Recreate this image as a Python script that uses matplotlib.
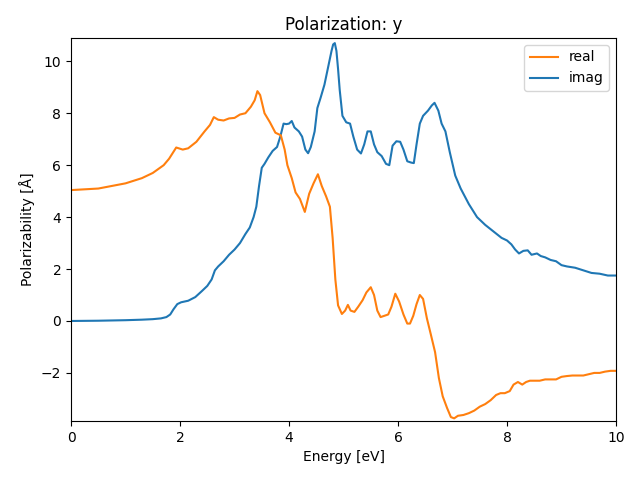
import numpy as np
import matplotlib.pyplot as plt

e_real = [0.0, 0.5, 1.0, 1.3, 1.5, 1.7, 1.8, 1.93, 2.05, 2.15, 2.3, 2.45, 2.55, 2.62, 2.7, 2.8,
          2.9, 3.0, 3.1, 3.2, 3.3, 3.37, 3.42, 3.47, 3.55, 3.65, 3.75, 3.85, 3.92, 3.97, 4.05,
          4.12, 4.2, 4.29, 4.37, 4.45, 4.53, 4.6, 4.68, 4.75, 4.8, 4.85, 4.9, 4.97, 5.03, 5.08,
          5.13, 5.2, 5.27, 5.35, 5.42, 5.5, 5.56, 5.62, 5.68, 5.75, 5.82, 5.88, 5.95, 6.02,
          6.1, 6.17, 6.22, 6.28, 6.34, 6.4, 6.46, 6.53, 6.6, 6.68, 6.75, 6.82, 6.9, 6.97, 7.03,
          7.1, 7.2, 7.3, 7.4, 7.5, 7.6, 7.7, 7.8, 7.88, 7.96, 8.05, 8.12, 8.2, 8.28, 8.35, 8.42,
          8.5, 8.6, 8.7, 8.8, 8.9, 9.0, 9.1, 9.2, 9.3, 9.4, 9.5, 9.6, 9.7, 9.8, 9.9, 10.0]
real = [5.04, 5.1, 5.3, 5.5, 5.7, 6.0, 6.25, 6.68, 6.6, 6.65, 6.9, 7.3, 7.55, 7.85, 7.75, 7.72,
        7.8, 7.82, 7.95, 8.0, 8.25, 8.5, 8.85, 8.7, 8.0, 7.65, 7.25, 7.15, 6.6, 6.0, 5.5,
        4.95, 4.7, 4.2, 4.9, 5.3, 5.65, 5.2, 4.8, 4.4, 3.2, 1.6, 0.6, 0.27, 0.4, 0.62,
        0.4, 0.35, 0.55, 0.8, 1.1, 1.3, 1.0, 0.4, 0.15, 0.2, 0.25, 0.55, 1.05, 0.75,
        0.25, -0.1, -0.1, 0.2, 0.65, 1.0, 0.85, 0.1, -0.5, -1.2, -2.2, -2.9, -3.35, -3.7, -3.75,
        -3.65, -3.62, -3.55, -3.45, -3.3, -3.2, -3.05, -2.85, -2.78, -2.78, -2.7, -2.45, -2.35, -2.45, -2.35, -2.3,
        -2.3, -2.3, -2.25, -2.25, -2.25, -2.15, -2.12, -2.1, -2.1, -2.1, -2.05, -2.0, -2.0, -1.95, -1.92, -1.92]

e_imag = [0.0, 0.5, 1.0, 1.3, 1.5, 1.65, 1.75, 1.82, 1.88, 1.95, 2.02, 2.15, 2.28, 2.4, 2.5,
          2.58, 2.64, 2.7, 2.8, 2.9, 3.0, 3.1, 3.2, 3.28, 3.35, 3.4, 3.45, 3.5, 3.55, 3.62,
          3.7, 3.78, 3.84, 3.9, 3.95, 4.0, 4.05, 4.1, 4.18, 4.24, 4.3, 4.35, 4.4, 4.47, 4.52,
          4.58, 4.65, 4.72, 4.78, 4.81, 4.84, 4.87, 4.9, 4.93, 4.98, 5.05, 5.12, 5.18, 5.25, 5.32, 5.38,
          5.44, 5.5, 5.56, 5.62, 5.7, 5.78, 5.84, 5.9, 5.97, 6.04, 6.1, 6.17, 6.24, 6.29, 6.34,
          6.4, 6.46, 6.55, 6.62, 6.67, 6.74, 6.8, 6.87, 6.95, 7.05, 7.15, 7.3, 7.45, 7.6, 7.75,
          7.9, 8.0, 8.08, 8.15, 8.22, 8.3, 8.38, 8.45, 8.55, 8.62, 8.7, 8.8, 8.9, 9.0, 9.1,
          9.25, 9.4, 9.55, 9.7, 9.85, 10.0]
imag = [0.0, 0.01, 0.03, 0.05, 0.07, 0.1, 0.15, 0.25, 0.45, 0.65, 0.72, 0.78, 0.92, 1.15, 1.35,
        1.6, 1.95, 2.1, 2.3, 2.55, 2.75, 3.0, 3.35, 3.6, 4.0, 4.4, 5.2, 5.9, 6.05, 6.3,
        6.55, 6.7, 7.1, 7.6, 7.58, 7.6, 7.7, 7.45, 7.3, 7.1, 6.6, 6.46, 6.7, 7.3, 8.2,
        8.6, 9.1, 9.8, 10.4, 10.65, 10.7, 10.4, 9.7, 8.9, 7.9, 7.65, 7.6, 7.1, 6.6, 6.45, 6.8,
        7.3, 7.3, 6.8, 6.5, 6.35, 6.05, 6.0, 6.75, 6.92, 6.9, 6.6, 6.15, 6.1, 6.08, 6.8,
        7.6, 7.9, 8.1, 8.3, 8.4, 8.1, 7.6, 7.3, 6.5, 5.6, 5.1, 4.5, 4.0, 3.7, 3.45,
        3.2, 3.1, 2.95, 2.75, 2.6, 2.7, 2.72, 2.55, 2.6, 2.5, 2.45, 2.35, 2.3, 2.15, 2.1,
        2.05, 1.95, 1.85, 1.82, 1.75, 1.75]

fig, ax = plt.subplots(figsize=(6.4, 4.8), dpi=100)
ax.plot(e_imag, imag, color='C0', label='imag')
ax.plot(e_real, real, color='C1', label='real')
h, l = ax.get_legend_handles_labels()
ax.legend([h[1], h[0]], [l[1], l[0]], loc='upper right')
ax.set_xlim(0, 10)
ax.set_ylim(-3.85, 10.9)
ax.set_title('Polarization: y')
ax.set_xlabel('Energy [eV]')
ax.set_ylabel('Polarizability [Å]')
fig.subplots_adjust(left=0.111, right=0.9625, top=0.921, bottom=0.123)
fig.savefig('out.png')
